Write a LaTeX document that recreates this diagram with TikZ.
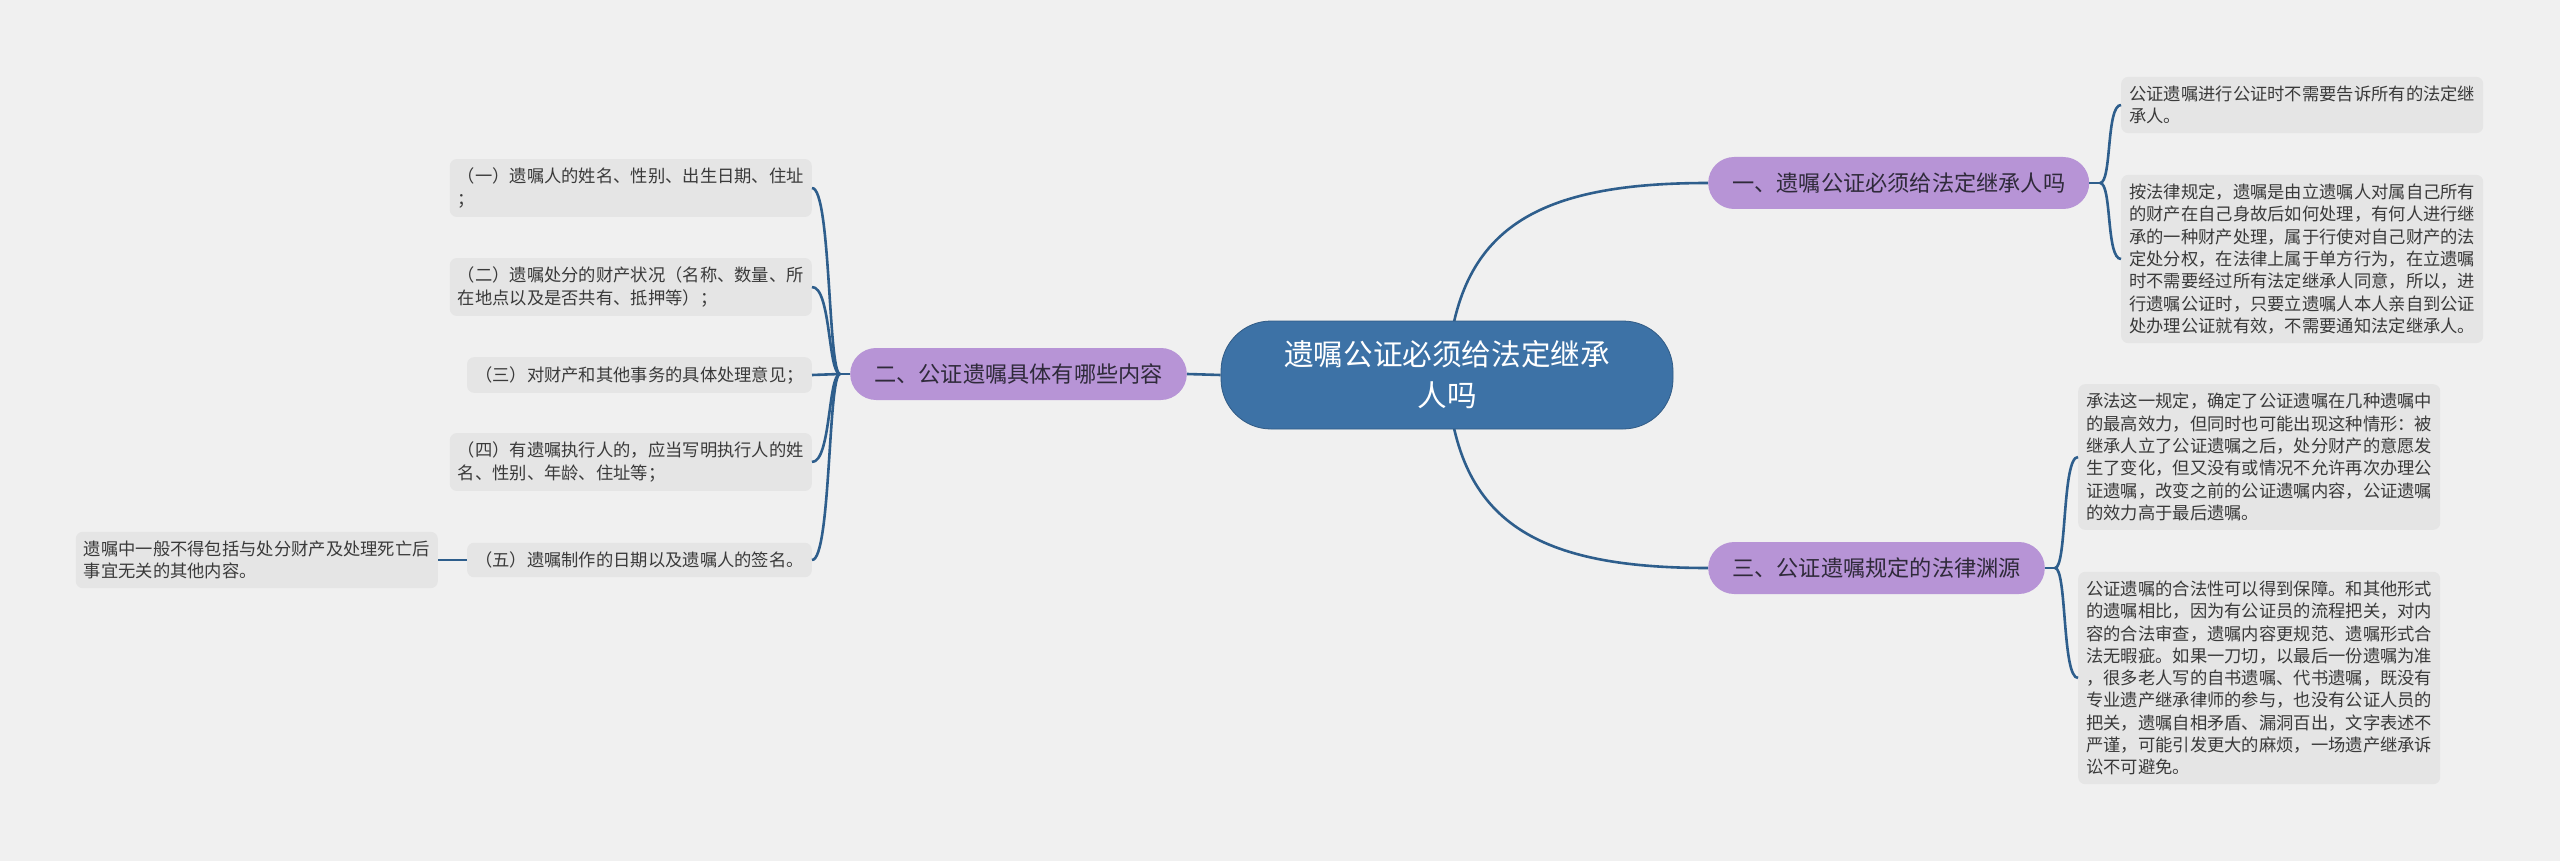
\documentclass[tikz,border=0pt]{standalone}
\usepackage{fontspec}
\setmainfont{Noto Sans CJK SC}
\usepackage{tikz}
\usetikzlibrary{backgrounds}
\definecolor{paper}{HTML}{F0F0F0}
\definecolor{rootblue}{HTML}{3D72A6}
\definecolor{lilac}{HTML}{B794D6}
\definecolor{leafgray}{HTML}{E5E5E5}
\definecolor{linkblue}{HTML}{2E5E8C}
\definecolor{leafink}{HTML}{3A3A3A}
\definecolor{branchink}{HTML}{2F2A3A}

\begin{document}
\begin{tikzpicture}[x=1pt,y=-1pt,
  rootnode/.style={fill=rootblue,draw=rootblue!80!black,line width=0.8pt,rounded corners=50pt,
    minimum width=452pt,minimum height=108pt,align=center,text=white,
    font=\fontsize{29.6}{41}\selectfont},
  branch/.style={fill=lilac,rounded corners=26pt,minimum height=52pt,inner xsep=24pt,
    text=branchink,font=\fontsize{22.2}{26}\selectfont},
  leaf/.style={fill=leafgray,rounded corners=7pt,inner xsep=8pt,inner ysep=9pt,align=left,
    text=leafink,font=\fontsize{17.3}{22.3}\selectfont},
  link/.style={draw=linkblue,line width=2.6pt}]
  \useasboundingbox (0,0) rectangle (2560,861);

  \node[rootnode] (root) at (1447,375) {遗嘱公证必须给法定继承\\人吗};
  \node[branch,anchor=west] (one) at (1708,183) {一、遗嘱公证必须给法定继承人吗};
  \node[branch,anchor=east] (two) at (1187,374) {二、公证遗嘱具体有哪些内容};
  \node[branch,anchor=west] (three) at (1708,568) {三、公证遗嘱规定的法律渊源};

  % branch one
  \node[leaf,anchor=west] (r1a) at (2121,105) {公证遗嘱进行公证时不需要告诉所有的法定继\\承人。};
  \node[leaf,anchor=west] (r1b) at (2121,259) {按法律规定，遗嘱是由立遗嘱人对属自己所有\\的财产在自己身故后如何处理，有何人进行继\\承的一种财产处理，属于行使对自己财产的法\\定处分权，在法律上属于单方行为，在立遗嘱\\时不需要经过所有法定继承人同意，所以，进\\行遗嘱公证时，只要立遗嘱人本人亲自到公证\\处办理公证就有效，不需要通知法定继承人。};

  % branch three
  \node[leaf,anchor=west] (r3a) at (2078,457) {承法这一规定，确定了公证遗嘱在几种遗嘱中\\的最高效力，但同时也可能出现这种情形：被\\继承人立了公证遗嘱之后，处分财产的意愿发\\生了变化，但又没有或情况不允许再次办理公\\证遗嘱，改变之前的公证遗嘱内容，公证遗嘱\\的效力高于最后遗嘱。};
  \node[leaf,anchor=west] (r3b) at (2078,678) {公证遗嘱的合法性可以得到保障。和其他形式\\的遗嘱相比，因为有公证员的流程把关，对内\\容的合法审查，遗嘱内容更规范、遗嘱形式合\\法无暇疵。如果一刀切，以最后一份遗嘱为准\\，很多老人写的自书遗嘱、代书遗嘱，既没有\\专业遗产继承律师的参与，也没有公证人员的\\把关，遗嘱自相矛盾、漏洞百出，文字表述不\\严谨，可能引发更大的麻烦，一场遗产继承诉\\讼不可避免。};

  % branch two
  \node[leaf,anchor=east] (l1) at (812,188) {（一）遗嘱人的姓名、性别、出生日期、住址\\；};
  \node[leaf,anchor=east] (l2) at (812,287) {（二）遗嘱处分的财产状况（名称、数量、所\\在地点以及是否共有、抵押等）；};
  \node[leaf,anchor=east] (l3) at (812,375) {（三）对财产和其他事务的具体处理意见；};
  \node[leaf,anchor=east] (l4) at (812,462) {（四）有遗嘱执行人的，应当写明执行人的姓\\名、性别、年龄、住址等；};
  \node[leaf,anchor=east] (l5) at (812,560) {（五）遗嘱制作的日期以及遗嘱人的签名。};
  \node[leaf,anchor=east] (far) at (438,560) {遗嘱中一般不得包括与处分财产及处理死亡后\\事宜无关的其他内容。};

  \begin{scope}[on background layer]
    \fill[paper] (0,0) rectangle (2560,861);
    \draw[link] (root.center) .. controls +(8,-144) and +(-177,0) .. (one.west);
    \draw[link] (root.center) .. controls +(8,144) and +(-177,0) .. (three.west);
    \draw[link] (root.west) -- (two.east);
  \end{scope}

  \coordinate (jr1) at (2100,183);
  \coordinate (jr3) at (2055,568);
  \coordinate (jl) at (840,374);
  \draw[link] (one.east) -- (jr1);
  \foreach \n in {r1a,r1b}{\draw[link] (jr1) .. controls +(12,0) and +(-15,0) .. (\n.west);}
  \draw[link] (three.east) -- (jr3);
  \foreach \n in {r3a,r3b}{\draw[link] (jr3) .. controls +(12,0) and +(-16,0) .. (\n.west);}
  \draw[link] (two.west) -- (jl);
  \foreach \n in {l1,l2,l4,l5}{\draw[link] (jl) .. controls +(-12,0) and +(19,0) .. (\n.east);}
  \draw[link] (jl) -- (l3.east);
  \draw[link] (l5.west) -- (far.east);
\end{tikzpicture}
\end{document}
